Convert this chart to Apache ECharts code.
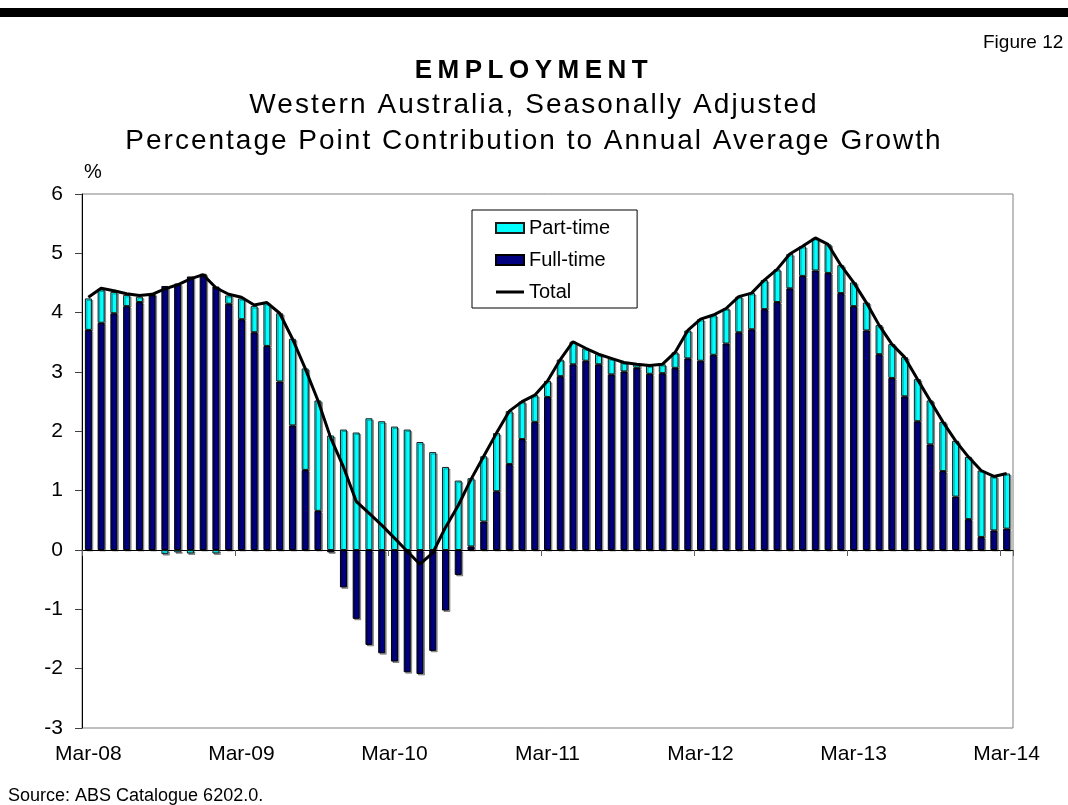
<!DOCTYPE html>
<html>
<head>
<meta charset="utf-8">
<script src="https://cdn.jsdelivr.net/npm/echarts@6/dist/echarts.min.js"></script>
<style>
html,body{margin:0;padding:0;background:#fff;}
#chart{width:1068px;height:805px;}
</style>
</head>
<body>
<div id="chart"></div>
<script>
var categories = [
'Mar-08','Apr-08','May-08','Jun-08','Jul-08','Aug-08','Sep-08','Oct-08','Nov-08','Dec-08','Jan-09','Feb-09',
'Mar-09','Apr-09','May-09','Jun-09','Jul-09','Aug-09','Sep-09','Oct-09','Nov-09','Dec-09','Jan-10','Feb-10',
'Mar-10','Apr-10','May-10','Jun-10','Jul-10','Aug-10','Sep-10','Oct-10','Nov-10','Dec-10','Jan-11','Feb-11',
'Mar-11','Apr-11','May-11','Jun-11','Jul-11','Aug-11','Sep-11','Oct-11','Nov-11','Dec-11','Jan-12','Feb-12',
'Mar-12','Apr-12','May-12','Jun-12','Jul-12','Aug-12','Sep-12','Oct-12','Nov-12','Dec-12','Jan-13','Feb-13',
'Mar-13','Apr-13','May-13','Jun-13','Jul-13','Aug-13','Sep-13','Oct-13','Nov-13','Dec-13','Jan-14','Feb-14',
'Mar-14'
];

var fullTime = [
3.71,3.83,3.99,4.11,4.18,4.30,4.45,4.49,4.61,4.64,4.44,4.15,
3.89,3.67,3.44,2.84,2.10,1.35,0.66,-0.04,-0.63,-1.16,-1.60,-1.74,
-1.88,-2.06,-2.09,-1.70,-1.02,-0.42,0.06,0.48,0.99,1.45,1.87,2.16,
2.58,2.93,3.13,3.19,3.13,2.96,3.01,3.07,2.97,2.98,3.07,3.23,
3.19,3.29,3.48,3.67,3.72,4.06,4.18,4.41,4.62,4.71,4.67,4.33,
4.11,3.70,3.30,2.90,2.59,2.17,1.78,1.33,0.90,0.52,0.22,0.33,
0.36
];

var partTime = [
0.53,0.56,0.36,0.19,0.09,0.01,-0.07,-0.04,-0.06,0.01,-0.06,0.14,
0.35,0.44,0.72,1.15,1.46,1.71,1.86,1.93,2.03,1.98,2.22,2.17,
2.08,2.03,1.82,1.65,1.40,1.17,1.15,1.10,0.98,0.89,0.63,0.45,
0.27,0.28,0.38,0.21,0.17,0.27,0.15,0.06,0.14,0.15,0.26,0.47,
0.70,0.67,0.59,0.60,0.61,0.49,0.55,0.58,0.50,0.55,0.48,0.47,
0.40,0.47,0.49,0.57,0.66,0.71,0.74,0.83,0.94,1.05,1.12,0.91,
0.93
];

var total = [
4.26,4.41,4.37,4.32,4.29,4.31,4.40,4.47,4.57,4.64,4.42,4.31,
4.26,4.13,4.17,3.99,3.56,3.06,2.52,1.89,1.40,0.82,0.62,0.42,
0.20,-0.02,-0.24,-0.05,0.38,0.75,1.19,1.58,1.97,2.34,2.50,2.61,
2.85,3.21,3.51,3.40,3.30,3.23,3.16,3.13,3.11,3.13,3.33,3.70,
3.89,3.96,4.07,4.27,4.33,4.55,4.73,4.99,5.12,5.26,5.15,4.80,
4.51,4.17,3.79,3.47,3.25,2.88,2.52,2.16,1.84,1.57,1.34,1.24,
1.29
];

var yTicks = [-3,-2,-1,0,1,2,3,4,5,6];

var titleMain = 'EMPLOYMENT';
var subLine1 = 'Western Australia, Seasonally Adjusted';
var subLine2 = 'Percentage Point Contribution to Annual Average Growth';

// letter spacing of the heading texts (the reference headings are letter-spaced)
var headingSpacing = {};
headingSpacing[titleMain] = '5.5px';
headingSpacing[subLine1] = '2.1px';
headingSpacing[subLine2] = '2px';

(function () {
  var proto = window.CanvasRenderingContext2D && CanvasRenderingContext2D.prototype;
  if (!proto || !('letterSpacing' in proto)) { return; }
  var origFill = proto.fillText;
  proto.fillText = function (t, x, y, w) {
    var sp = headingSpacing[t] || '0px';
    // force a fresh value so no stale spacing is kept from an earlier text
    this.letterSpacing = '0.5px';
    this.letterSpacing = sp;
    var r = (w === undefined) ? origFill.call(this, t, x, y) : origFill.call(this, t, x, y, w);
    this.letterSpacing = '0.5px';
    this.letterSpacing = '0px';
    return r;
  };
})();

var FONT = '"Liberation Sans", Arial, Helvetica, sans-serif';

var chart = echarts.init(document.getElementById('chart'), null, {renderer: 'canvas'});

var lineIcon = 'path://M0,0 L0.01,0 L0.01,0.01 Z M0,3.6 L28,3.6 L28,6.4 L0,6.4 Z M27.99,10 L28,10 L28,9.99 Z';

var option = {
  backgroundColor: '#ffffff',
  animation: false,
  textStyle: {fontFamily: FONT, color: '#000'},
  graphic: [
    {type: 'rect', left: 0, top: 8, shape: {width: 1068, height: 9}, style: {fill: '#000'}, silent: true}
  ],
  title: [
    {text: 'Figure 12', left: 983, top: 33, padding: 0,
     textStyle: {fontFamily: FONT, fontSize: 19, fontWeight: 'normal', color: '#000'}},
    {text: titleMain, left: 'center', top: 58, padding: 0,
     textStyle: {fontFamily: FONT, fontSize: 26, fontWeight: 'bold', color: '#000', align: 'center'}},
    {text: subLine1 + '\n' + subLine2,
     left: 'center', top: 87, padding: [0, 0, 0, 10],
     textStyle: {fontFamily: FONT, fontSize: 28, lineHeight: 36, fontWeight: 'normal', color: '#000', align: 'center'}},
    {text: 'Source: ABS Catalogue 6202.0.', left: 8, top: 787, padding: 0,
     textStyle: {fontFamily: FONT, fontSize: 18, fontWeight: 'normal', color: '#000'}}
  ],
  legend: {
    orient: 'vertical',
    left: 472, top: 210,
    data: [
      {name: 'Part-time', icon: 'rect'},
      {name: 'Full-time', icon: 'rect'},
      {name: 'Total', icon: lineIcon, itemStyle: {color: '#000', borderWidth: 0}}
    ],
    borderColor: '#000', borderWidth: 1,
    padding: [8, 27, 6, 23],
    itemWidth: 28, itemHeight: 10, itemGap: 12,
    textStyle: {fontFamily: FONT, fontSize: 20, lineHeight: 20, color: '#000'}
  },
  grid: {
    left: 82, right: 55, top: 194, bottom: 77,
    show: true, borderColor: '#808080', borderWidth: 1, backgroundColor: 'transparent'
  },
  xAxis: [
    {
      type: 'category', data: categories, boundaryGap: true,
      axisLine: {show: true, onZero: true, lineStyle: {color: '#000', width: 1}},
      axisTick: {show: true, length: 6, interval: function (i) { return i % 12 === 0; },
                 lineStyle: {color: '#606060', width: 1}},
      axisLabel: {show: false},
      splitLine: {show: false}
    },
    {
      type: 'category', data: categories, boundaryGap: true, position: 'bottom',
      axisLine: {show: false, onZero: false},
      axisTick: {show: false},
      axisLabel: {show: true, interval: function (i) { return i % 12 === 0; },
                  fontFamily: FONT, fontSize: 21, color: '#000', margin: 16},
      splitLine: {show: false}
    }
  ],
  yAxis: {
    type: 'value', min: -3, max: 6, interval: 1,
    name: '%', nameLocation: 'end', nameGap: 12,
    nameTextStyle: {fontFamily: FONT, fontSize: 20, color: '#000', align: 'left', padding: [0, 0, 0, 2]},
    axisLine: {show: true, lineStyle: {color: '#000', width: 1}},
    axisTick: {show: true, length: 7, inside: false, lineStyle: {color: '#404040'}},
    axisLabel: {fontFamily: FONT, fontSize: 21, color: '#000', margin: 19,
                formatter: function (v) { return yTicks.indexOf(v) >= 0 ? String(v) : ''; }},
    splitLine: {show: false}
  },
  series: [
    {
      name: 'Full-time', type: 'bar', stack: 'emp', xAxisIndex: 0, data: fullTime,
      barWidth: 7,
      itemStyle: {color: '#000080', borderColor: '#000', borderWidth: 1,
                  shadowColor: 'rgba(0,0,0,0.35)', shadowOffsetX: 1.5, shadowOffsetY: 1.5, shadowBlur: 0}
    },
    {
      name: 'Part-time', type: 'bar', stack: 'emp', xAxisIndex: 0, data: partTime,
      barWidth: 7,
      itemStyle: {color: '#00FFFF', borderColor: '#1a1a1a', borderWidth: 1,
                  shadowColor: 'rgba(0,0,0,0.35)', shadowOffsetX: 1.5, shadowOffsetY: 1.5, shadowBlur: 0}
    },
    {
      name: 'Total', type: 'line', xAxisIndex: 0, data: total,
      symbol: 'none', smooth: false, z: 5,
      itemStyle: {color: '#000'},
      lineStyle: {color: '#000', width: 3}
    }
  ]
};

chart.setOption(option);
</script>
</body>
</html>
